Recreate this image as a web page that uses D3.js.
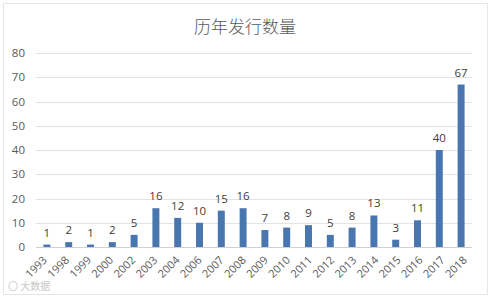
<!DOCTYPE html>
<html>
<head>
<meta charset="utf-8">
<script src="https://cdn.jsdelivr.net/npm/d3@7"></script>
<style>
  body { margin: 0; background: #fff; }
  text { font-family: "Open Sans", "Noto Sans CJK SC", sans-serif; }
</style>
</head>
<body>
<div id="wrapper"></div>
<script>
// data
const years = ["1993","1998","1999","2000","2002","2003","2004","2006","2007","2008",
               "2009","2010","2011","2012","2013","2014","2015","2016","2017","2018"];
const counts = [1,2,1,2,5,16,12,10,15,16,7,8,9,5,8,13,3,11,40,67];
const yTicks = [0,10,20,30,40,50,60,70,80];

const drawBarChart = () => {
    let dimensions = {
        width: 491,
        height: 298,
        margin: { top: 53, right: 19, bottom: 51, left: 36 }
    };
    dimensions.boundedWidth = dimensions.width - dimensions.margin.left - dimensions.margin.right;
    dimensions.boundedHeight = dimensions.height - dimensions.margin.top - dimensions.margin.bottom;

    const svg = d3.select("#wrapper")
        .append("svg")
        .attr("width", dimensions.width)
        .attr("height", dimensions.height);

    // faint frame of the chart area
    svg.append("rect")
        .attr("x", 3.5).attr("y", 3.5)
        .attr("width", dimensions.width - 7).attr("height", dimensions.height - 7)
        .attr("fill", "none").attr("stroke", "#e6e6e6");

    svg.append("text")
        .attr("x", 245)
        .attr("y", 33)
        .attr("text-anchor", "middle")
        .attr("font-size", 17)
        .attr("fill", "#595959")
        .style("font-family", "'Noto Sans CJK SC', sans-serif")
        .style("font-weight", 300)
        .text("历年发行数量");

    const bounds = svg.append("g")
        .attr("transform", `translate(${dimensions.margin.left}, ${dimensions.margin.top})`);

    const xScale = d3.scaleBand()
        .domain(years)
        .range([0, dimensions.boundedWidth])
        .paddingInner(0.68)
        .paddingOuter(0.34);

    // the category labels sit on a slightly wider spacing than the bars
    const labelScale = xScale.copy().range([0, dimensions.boundedWidth + 6]);

    const yScale = d3.scaleLinear()
        .domain([0, 80])
        .range([dimensions.boundedHeight, 0]);

    // gridlines
    bounds.append("g")
        .selectAll("line")
        .data(yTicks)
        .enter()
        .append("line")
        .attr("x1", 0)
        .attr("x2", dimensions.boundedWidth)
        .attr("y1", d => Math.round(yScale(d)) + 0.5)
        .attr("y2", d => Math.round(yScale(d)) + 0.5)
        .attr("stroke", d => d === 0 ? "#d0d0d0" : "#e3e3e3");

    // y axis labels
    const yAxis = d3.axisLeft(yScale).tickValues(yTicks).tickSize(0).tickPadding(11);
    const yAxisG = bounds.append("g").call(yAxis);
    yAxisG.select(".domain").remove();
    yAxisG.selectAll("text")
        .attr("font-size", 11.5)
        .attr("fill", "#595959")
        .style("font-family", "'Open Sans', sans-serif");

    // bars
    bounds.append("g")
        .selectAll("rect")
        .data(counts)
        .enter()
        .append("rect")
        .attr("x", (d, i) => xScale(years[i]))
        .attr("y", d => yScale(d))
        .attr("width", xScale.bandwidth())
        .attr("height", d => dimensions.boundedHeight - yScale(d))
        .attr("fill", "#4a76b0");

    // data labels
    bounds.append("g")
        .selectAll("text")
        .data(counts)
        .enter()
        .append("text")
        .attr("x", (d, i) => xScale(years[i]) + xScale.bandwidth() / 2)
        .attr("y", d => yScale(d) - 8)
        .attr("text-anchor", "middle")
        .attr("font-size", 11.5)
        .attr("fill", "#404040")
        .text(d => d);

    // x axis labels, rotated
    const xAxis = d3.axisBottom(labelScale).tickSize(0).tickPadding(0);
    const xAxisG = bounds.append("g")
        .attr("transform", `translate(0, ${dimensions.boundedHeight})`)
        .call(xAxis);
    xAxisG.select(".domain").remove();
    xAxisG.selectAll("text")
        .attr("font-size", 11)
        .attr("fill", "#595959")
        .style("font-family", "'Open Sans', sans-serif")
        .attr("text-anchor", "end")
        .attr("y", 0)
        .attr("dy", "0.35em")
        .attr("transform", "translate(-2, 11) rotate(-45)");

    // watermark
    svg.append("text")
        .attr("x", 8)
        .attr("y", 290)
        .attr("font-size", 10)
        .attr("fill", "#c8c8c8")
        .style("font-family", "'Noto Sans CJK SC', sans-serif")
        .text("〇 大数据");
}

drawBarChart()
</script>
</body>
</html>
